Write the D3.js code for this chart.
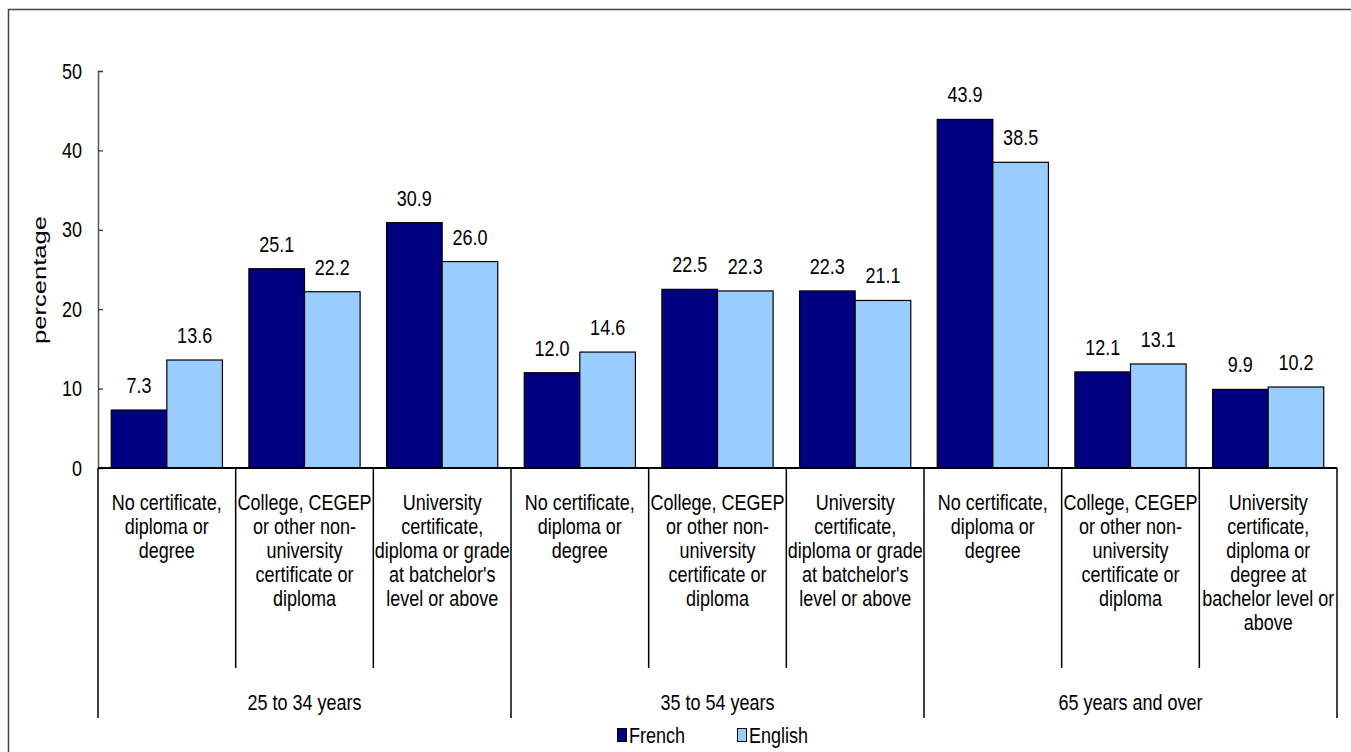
<!DOCTYPE html>
<html>
<head>
<meta charset="utf-8">
<script src="https://cdn.jsdelivr.net/npm/d3@7"></script>
<style>
  html, body { margin: 0; padding: 0; background: #fff; }
  svg { display: block; font-family: "Liberation Sans", Arial, sans-serif; }
</style>
</head>
<body>
<svg id="chart" width="1351" height="752"></svg>
<script>
// Education level categories, repeated for each age group (each label is split into lines)
const categoryLabels = [
  ["No certificate,", "diploma or", "degree"],
  ["College, CEGEP", "or other non-", "university", "certificate or", "diploma"],
  ["University", "certificate,", "diploma or grade", "at batchelor's", "level or above"],
  ["No certificate,", "diploma or", "degree"],
  ["College, CEGEP", "or other non-", "university", "certificate or", "diploma"],
  ["University", "certificate,", "diploma or grade", "at batchelor's", "level or above"],
  ["No certificate,", "diploma or", "degree"],
  ["College, CEGEP", "or other non-", "university", "certificate or", "diploma"],
  ["University", "certificate,", "diploma or", "degree at", "bachelor level or", "above"]
];
const ageGroups = ["25 to 34 years", "35 to 54 years", "65 years and over"];
const seriesNames = ["French", "English"];
const frenchValues = [7.3, 25.1, 30.9, 12.0, 22.5, 22.3, 43.9, 12.1, 9.9];
const englishValues = [13.6, 22.2, 26.0, 14.6, 22.3, 21.1, 38.5, 13.1, 10.2];
const yTickValues = [0, 10, 20, 30, 40, 50];
const yLabel = "percentage";

const colors = { French: "#000080", English: "#99ccff" };
const FONT = 18;        // px
const SY = 1.2;         // vertical stretch of the lettering

const svg = d3.select("#chart");
const plotLeft = 98, plotRight = 1337, plotTop = 71, plotBase = 468;

// outer frame
svg.append("rect")
  .attr("x", 8.5).attr("y", 9.5).attr("width", 1400).attr("height", 800)
  .attr("fill", "none").attr("stroke", "#444").attr("stroke-width", 1.5);

const idx = d3.range(categoryLabels.length);
const x = d3.scaleBand().domain(idx).range([plotLeft, plotRight]).paddingInner(0).paddingOuter(0);
const xs = d3.scaleBand().domain(seriesNames).range([0, x.bandwidth()]).paddingInner(0).paddingOuter(0.238);
const y = d3.scaleLinear().domain([0, 50]).range([plotBase, plotTop]);

// stretched text helper: anchor at (px, py)
function stext(g, px, py, str, anchor) {
  return g.append("text")
    .attr("transform", `translate(${px},${py}) scale(1,${SY})`)
    .attr("text-anchor", anchor || "middle")
    .attr("font-size", FONT)
    .attr("fill", "#000")
    .text(str);
}

// y axis
const yAxis = d3.axisLeft(y).tickValues(yTickValues)
  .tickSizeInner(-5).tickSizeOuter(-5).tickPadding(16);
const ax = svg.append("g").attr("transform", `translate(${plotLeft},0)`).call(yAxis);
ax.select(".domain").attr("stroke", "#555").attr("stroke-width", 1.5);
ax.selectAll(".tick line").attr("stroke", "#333").attr("stroke-width", 1.2);
ax.selectAll(".tick text")
  .attr("font-family", "Liberation Sans, Arial, sans-serif")
  .attr("font-size", FONT).attr("fill", "#000")
  .attr("dy", null).attr("y", 0)
  .attr("transform", `translate(0,7) scale(1,${SY})`);

// y label
svg.append("text")
  .attr("transform", `translate(46,280) scale(1,1.42) rotate(-90)`)
  .attr("text-anchor", "middle").attr("font-size", FONT).attr("fill", "#000")
  .text(yLabel);

// bars
const data = idx.map(i => ({ i, French: frenchValues[i], English: englishValues[i] }));
const cat = svg.append("g").selectAll("g").data(data).join("g")
  .attr("transform", d => `translate(${x(d.i)},0)`);

cat.selectAll("rect").data(d => seriesNames.map(s => ({ s, v: d[s] }))).join("rect")
  .attr("x", d => xs(d.s)).attr("width", xs.bandwidth())
  .attr("y", d => y(d.v)).attr("height", d => plotBase - y(d.v))
  .attr("fill", d => colors[d.s]).attr("stroke", "#000").attr("stroke-width", 1.2);

// value labels
cat.each(function(d) {
  const g = d3.select(this);
  seriesNames.forEach(s => {
    stext(g, xs(s) + xs.bandwidth() / 2, y(d[s]) - 17, d[s].toFixed(1));
  });
});

// baseline
svg.append("line").attr("x1", plotLeft).attr("x2", plotRight).attr("y1", plotBase).attr("y2", plotBase)
  .attr("stroke", "#000").attr("stroke-width", 2);

// category separators: short inside groups, long at group edges
const bounds = idx.map(i => x(i)).concat([plotRight]);
svg.append("g").selectAll("line").data(bounds).join("line")
  .attr("x1", d => d).attr("x2", d => d)
  .attr("y1", plotBase)
  .attr("y2", (d, k) => (k % 3 === 0 ? 718 : 668))
  .attr("stroke", "#000").attr("stroke-width", 1.5);

// category labels
const lab = svg.append("g");
categoryLabels.forEach((lines, i) => {
  lines.forEach((ln, j) => {
    stext(lab, x(i) + x.bandwidth() / 2, 509.5 + j * 24, ln);
  });
});

// age group labels
ageGroups.forEach((gname, k) => {
  const cx = (x(k * 3) + x(k * 3 + 2) + x.bandwidth()) / 2;
  stext(lab, cx, 710, gname);
});

// legend
const legendPos = [{ s: "French", x: 617 }, { s: "English", x: 737 }];
const leg = svg.append("g");
legendPos.forEach(p => {
  leg.append("rect").attr("x", p.x + 0.5).attr("y", 728.5).attr("width", 9).attr("height", 13)
    .attr("fill", colors[p.s]).attr("stroke", "#000").attr("stroke-width", 1);
  stext(leg, p.x + 12, 743, p.s, "start");
});
</script>
</body>
</html>
